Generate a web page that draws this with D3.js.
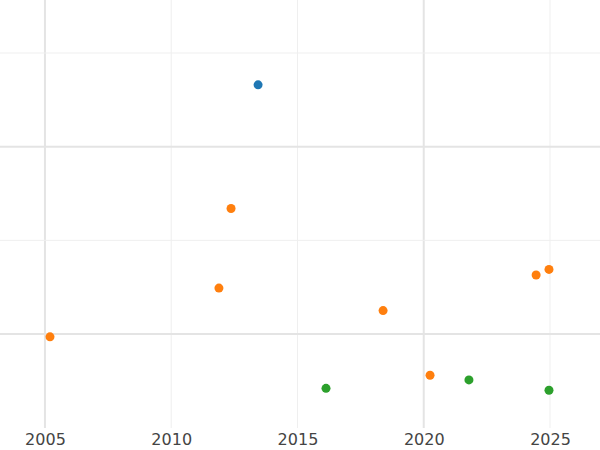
<!DOCTYPE html>
<html><head><meta charset="utf-8">
<script src="https://cdn.jsdelivr.net/npm/d3@7"></script>
<style>body{margin:0;background:#fff}text{font-family:"DejaVu Sans",sans-serif}</style>
</head><body><svg id="c" width="600" height="450"></svg>
<script>
const blueX = [2013.44]
const blueY = [2.66]
const orangeX = [2012.37, 2011.89, 2005.2, 2018.39, 2020.25, 2024.45, 2024.96]
const orangeY = [1.34, 0.49, -0.03, 0.25, -0.44, 0.63, 0.69]
const greenX = [2016.13, 2021.79, 2024.96]
const greenY = [-0.58, -0.49, -0.6]
const xTicks = [2005, 2010, 2015, 2020, 2025]
const yGrid = [0, 1, 2, 3]

const svg = d3.select('#c')
const x = d3.scaleLinear().domain([2003.22, 2026.98]).range([0, 600])
const y = d3.scaleLinear().domain([-1, 3]).range([427.7, 53])

svg.selectAll('.vg').data(xTicks).enter().append('line')
    .attr('x1', d => x(d)).attr('x2', d => x(d)).attr('y1', 0).attr('y2', 428)
    .attr('stroke', d => (d === 2005 || d === 2020) ? '#e4e4e4' : '#efefef')
    .attr('stroke-width', d => (d === 2005 || d === 2020) ? 2 : 1)

svg.selectAll('.hg').data(yGrid).enter().append('line')
    .attr('x1', 0).attr('x2', 600).attr('y1', d => y(d)).attr('y2', d => y(d))
    .attr('stroke', d => d % 2 === 0 ? '#e4e4e4' : '#efefef')
    .attr('stroke-width', d => d % 2 === 0 ? 2 : 1)

const axis = svg.append('g').attr('transform', 'translate(0,428)')
    .call(d3.axisBottom(x).tickValues(xTicks).tickFormat(d3.format('d')).tickSize(0).tickPadding(6))
axis.select('.domain').remove()
axis.selectAll('text').attr('font-size', 16).attr('fill', '#444')

const series = [
    { xs: blueX, ys: blueY, color: '#1f77b4' },
    { xs: orangeX, ys: orangeY, color: '#ff7f0e' },
    { xs: greenX, ys: greenY, color: '#2ca02c' }
]
series.forEach(s => {
    svg.append('g').selectAll('circle').data(s.xs).enter().append('circle')
        .attr('cx', d => x(d)).attr('cy', (d, i) => y(s.ys[i]))
        .attr('r', 4.5).attr('fill', s.color)
})
</script></body></html>
